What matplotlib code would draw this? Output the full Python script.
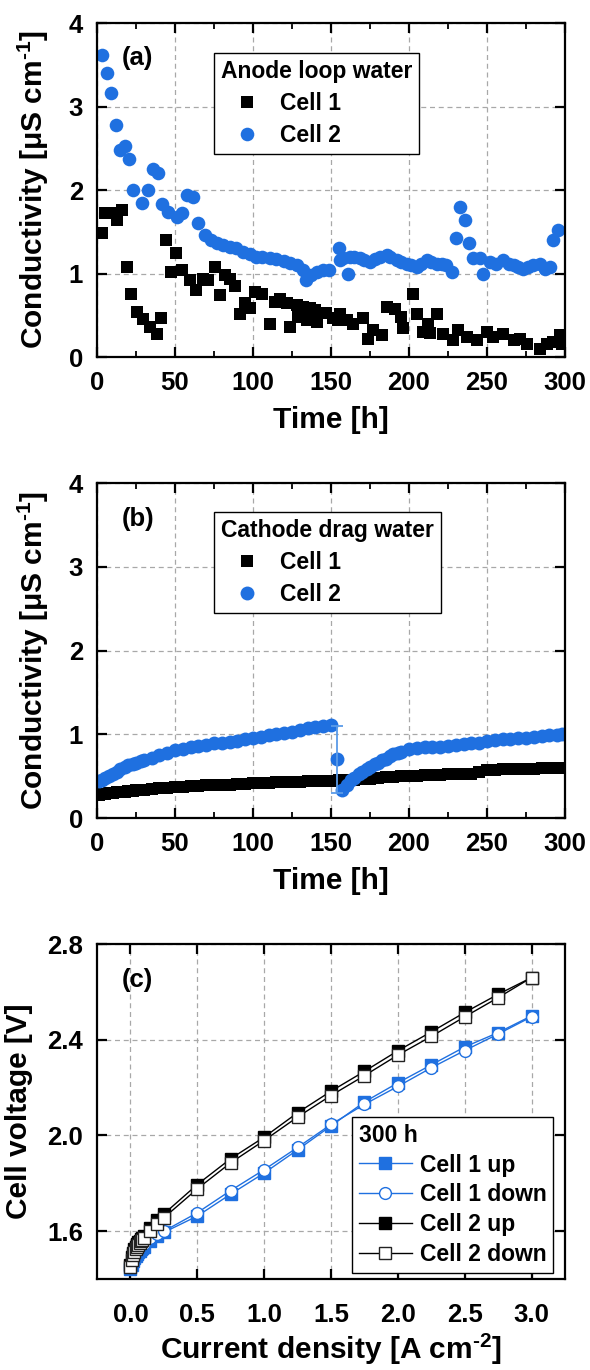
import numpy as np
import matplotlib
matplotlib.use('Agg')
import matplotlib.pyplot as plt

plt.rcParams['font.family'] = ['Liberation Sans', 'DejaVu Sans']
plt.rcParams['font.weight'] = 'bold'
plt.rcParams['axes.labelweight'] = 'bold'
plt.rcParams['mathtext.fontset'] = 'custom'
plt.rcParams['mathtext.bf'] = 'Liberation Sans:bold'
plt.rcParams['mathtext.rm'] = 'Liberation Sans:bold'
plt.rcParams['mathtext.default'] = 'bf'

blue = '#1f70e0'

# ---- (a) anode loop water ----
t_a1 = [3, 5, 9.4, 12.6, 15.8, 19, 22, 25.4, 29.7, 34, 38.3, 41, 44.2, 47.2, 50.6, 54.3, 59.6, 63.5, 68, 71,
        75.6, 79, 82, 85, 88.5, 91.7, 95, 98, 101, 105.6, 111, 114, 117, 121.6, 123.7, 128, 129, 132, 134.4,
        136.5, 139.7, 140.8, 147, 151.5, 154.7, 155.8, 160, 164, 170.7, 174, 177, 182.5, 185.7, 191, 195, 196,
        202.8, 205, 209, 212, 213.5, 217.7, 222, 228.4, 231.6, 237, 243.4, 249.8, 254, 260.4, 267, 271, 275.4,
        284, 288.3, 292.5, 296.8, 297.8]
c_a1 = [1.49, 1.72, 1.72, 1.64, 1.76, 1.08, 0.76, 0.54, 0.46, 0.36, 0.28, 0.47, 1.40, 1.02, 1.25, 1.04, 0.92,
        0.80, 0.94, 0.92, 1.08, 0.74, 0.98, 0.94, 0.85, 0.52, 0.65, 0.59, 0.78, 0.76, 0.40, 0.66, 0.70, 0.65,
        0.36, 0.62, 0.48, 0.60, 0.44, 0.59, 0.56, 0.42, 0.53, 0.47, 0.44, 0.52, 0.44, 0.40, 0.47, 0.22, 0.32,
        0.26, 0.60, 0.58, 0.48, 0.35, 0.76, 0.52, 0.30, 0.40, 0.29, 0.52, 0.28, 0.20, 0.32, 0.24, 0.20, 0.30,
        0.24, 0.28, 0.20, 0.22, 0.16, 0.10, 0.16, 0.18, 0.26, 0.16]
t_a2 = [3, 6.2, 9, 12, 14.7, 18, 20.7, 23.3, 28.6, 32.9, 35.7, 39.3, 41.4, 45.7, 51, 54.3, 57.5, 61.7, 65, 69,
        73, 76.7, 81, 85, 89, 93.8, 98, 102, 106, 111, 115, 120, 124, 128, 132, 134, 137, 141, 145, 149, 155,
        156, 158, 161, 162, 165, 168.6, 171, 175, 178, 181.4, 185.7, 188, 192, 195, 198.6, 201, 205, 208,
        211.5, 214, 217.8, 221, 224, 227.4, 230, 232.7, 236, 238.7, 241, 245.5, 247.7, 252, 256, 260.5, 264,
        267, 270, 273, 276, 279.7, 284, 287.2, 290.4, 292.5, 295.7]
c_a2 = [3.62, 3.40, 3.16, 2.78, 2.48, 2.53, 2.37, 2.00, 1.84, 2.00, 2.25, 2.20, 1.83, 1.74, 1.68, 1.72, 1.94,
        1.92, 1.60, 1.46, 1.40, 1.36, 1.34, 1.32, 1.30, 1.26, 1.23, 1.20, 1.20, 1.19, 1.17, 1.15, 1.13, 1.10,
        1.04, 0.92, 0.98, 1.02, 1.04, 1.04, 1.30, 1.16, 1.18, 1.00, 1.20, 1.20, 1.18, 1.16, 1.14, 1.17, 1.20,
        1.22, 1.20, 1.16, 1.14, 1.12, 1.10, 1.08, 1.12, 1.16, 1.14, 1.12, 1.11, 1.10, 1.02, 1.42, 1.80, 1.64,
        1.37, 1.18, 1.18, 0.99, 1.14, 1.12, 1.16, 1.12, 1.10, 1.08, 1.06, 1.08, 1.10, 1.12, 1.06, 1.08, 1.40,
        1.52]

# ---- (b) cathode drag water ----
t_b1 = [1, 3, 5, 8, 10, 13, 15, 18, 20, 23, 25, 28, 30, 35, 40, 45, 50, 55, 60, 65, 70, 75, 80, 85, 90, 95,
        100, 105, 110, 115, 120, 125, 130, 135, 140, 145, 150, 155, 160, 165, 170, 175, 180, 185, 190, 195,
        200, 205, 210, 215, 220, 225, 230, 235, 240, 245, 250, 255, 260, 265, 270, 275, 280, 285, 290, 295, 298]
c_b1 = [0.28, 0.285, 0.29, 0.295, 0.30, 0.305, 0.31, 0.315, 0.32, 0.325, 0.33, 0.335, 0.34, 0.35, 0.355,
        0.36, 0.37, 0.375, 0.38, 0.385, 0.39, 0.395, 0.40, 0.40, 0.405, 0.41, 0.415, 0.42, 0.42, 0.425, 0.43,
        0.43, 0.435, 0.44, 0.44, 0.445, 0.445, 0.45, 0.455, 0.46, 0.465, 0.47, 0.48, 0.485, 0.49, 0.50, 0.50,
        0.505, 0.51, 0.51, 0.515, 0.52, 0.52, 0.525, 0.53, 0.55, 0.57, 0.575, 0.58, 0.58, 0.585, 0.59, 0.59,
        0.595, 0.60, 0.60, 0.60]
t_b2 = [1, 3, 5, 8, 10, 13, 15, 18, 20, 23, 25, 28, 30, 35, 40, 45, 50, 55, 60, 65, 70, 75, 80, 85, 90, 95,
        100, 105, 110, 115, 120, 125, 130, 135, 140, 145, 150, 153.6, 157, 160, 163, 165, 168, 170, 173, 175,
        178, 180, 183, 185, 188, 190, 193, 195, 200, 205, 210, 215, 220, 225, 230, 235, 240, 245, 250, 255,
        260, 265, 270, 275, 280, 285, 290, 295, 298]
c_b2 = [0.44, 0.46, 0.48, 0.50, 0.52, 0.55, 0.58, 0.61, 0.63, 0.65, 0.66, 0.68, 0.69, 0.72, 0.75, 0.78,
        0.81, 0.83, 0.85, 0.86, 0.87, 0.89, 0.90, 0.91, 0.92, 0.94, 0.96, 0.97, 0.99, 1.00, 1.02, 1.03, 1.05,
        1.07, 1.09, 1.10, 1.11, 0.70, 0.33, 0.40, 0.45, 0.48, 0.52, 0.55, 0.58, 0.61, 0.64, 0.66, 0.69, 0.71,
        0.74, 0.76, 0.78, 0.79, 0.82, 0.84, 0.85, 0.85, 0.85, 0.86, 0.87, 0.88, 0.89, 0.90, 0.92, 0.93, 0.94,
        0.94, 0.95, 0.96, 0.97, 0.98, 0.99, 0.99, 1.00]
err_t = 153.6
err_c = 0.70
err_c_size = 0.40

# ---- (c) polarisation curves ----
j_c = [0, 0.01, 0.02, 0.03, 0.04, 0.05, 0.06, 0.07, 0.08, 0.09, 0.1, 0.15, 0.2, 0.25, 0.5, 0.75, 1.0, 1.25,
       1.5, 1.75, 2.0, 2.25, 2.5, 2.75, 3.0]
u_cell1_up = [1.44, 1.46, 1.475, 1.487, 1.497, 1.505, 1.512, 1.518, 1.524, 1.53, 1.535, 1.56, 1.58, 1.595,
              1.663, 1.755, 1.843, 1.94, 2.04, 2.14, 2.22, 2.295, 2.37, 2.43, 2.50]
u_cell1_down = [1.45, 1.47, 1.485, 1.497, 1.507, 1.515, 1.522, 1.528, 1.534, 1.54, 1.545, 1.57, 1.588, 1.60,
                1.677, 1.770, 1.857, 1.95, 2.046, 2.13, 2.205, 2.283, 2.355, 2.424, 2.496]
u_cell2_up = [1.46, 1.49, 1.51, 1.525, 1.535, 1.545, 1.553, 1.56, 1.567, 1.573, 1.58, 1.615, 1.645, 1.672,
              1.795, 1.903, 1.993, 2.095, 2.185, 2.268, 2.354, 2.433, 2.514, 2.59, 2.66]
u_cell2_down = [1.45, 1.48, 1.50, 1.515, 1.525, 1.535, 1.543, 1.55, 1.557, 1.563, 1.57, 1.60, 1.63, 1.656,
                1.777, 1.886, 1.979, 2.077, 2.167, 2.250, 2.336, 2.414, 2.496, 2.576, 2.66]

fig = plt.figure(figsize=(5.9, 13.7), dpi=100)
ax_a = fig.add_axes([0.1644, 0.7394, 0.7932, 0.2438])
ax_b = fig.add_axes([0.1644, 0.4029, 0.7932, 0.2445])
ax_c = fig.add_axes([0.1644, 0.0664, 0.7932, 0.2445])

cond_label = r'Conductivity [μS cm$^{\text{-1}}$]'


def style_axes(ax, minor_x):
    for s in ax.spines.values():
        s.set_linewidth(1.6)
    ax.tick_params(which='major', direction='in', length=7, width=1.6, top=True, right=True,
                   labelsize=18.5, pad=10)
    if minor_x:
        ax.tick_params(which='minor', direction='in', length=4, width=1.3, top=True, right=True)
    ax.grid(True, which='major', color='#a8a8a8', linestyle=(0, (4, 3)), linewidth=0.9)
    ax.set_axisbelow(True)


def legend_style(leg):
    leg.get_frame().set_edgecolor('black')
    leg.get_frame().set_linewidth(1.0)
    leg.get_frame().set_boxstyle('square', pad=0)
    leg._legend_box.align = 'left'
    leg.get_title().set_fontweight('bold')


# (a)
ax_a.plot(t_a1, c_a1, 's', color='black', ms=8.2, mew=0, label='Cell 1')
ax_a.plot(t_a2, c_a2, 'o', color=blue, ms=9.8, mew=0, label='Cell 2')
ax_a.set_xlim(0, 300)
ax_a.set_ylim(0, 4)
ax_a.set_xticks(np.arange(0, 301, 50))
ax_a.set_xticks(np.arange(25, 300, 50), minor=True)
ax_a.set_yticks([0, 1, 2, 3, 4])
style_axes(ax_a, True)
ax_a.set_xlabel('Time [h]', fontsize=21.5, labelpad=8)
ax_a.set_ylabel(cond_label, fontsize=21.5, labelpad=13)
ax_a.text(0.053, 0.93, '(a)', transform=ax_a.transAxes, fontsize=18.5, fontweight='bold', va='top')
leg = ax_a.legend(title='Anode loop water', loc='upper left', bbox_to_anchor=(0.25, 0.91),
                  borderaxespad=0, fontsize=16.5, title_fontsize=16.5, handlelength=2.3,
                  handletextpad=0.3, labelspacing=0.4, borderpad=0.3, fancybox=False, framealpha=1)
legend_style(leg)

# (b)
ax_b.plot(t_b1, c_b1, 's', color='black', ms=8.5, mew=0, label='Cell 1')
ax_b.plot(t_b2, c_b2, 'o', color=blue, ms=10, mew=0, label='Cell 2')
ax_b.errorbar([err_t], [err_c], yerr=[err_c_size], fmt='none', ecolor='#5a9be8', elinewidth=1.3,
              capsize=4, capthick=1.3)
ax_b.set_xlim(0, 300)
ax_b.set_ylim(0, 4)
ax_b.set_xticks(np.arange(0, 301, 50))
ax_b.set_xticks(np.arange(25, 300, 50), minor=True)
ax_b.set_yticks([0, 1, 2, 3, 4])
style_axes(ax_b, True)
ax_b.set_xlabel('Time [h]', fontsize=21.5, labelpad=8)
ax_b.set_ylabel(cond_label, fontsize=21.5, labelpad=13)
ax_b.text(0.053, 0.93, '(b)', transform=ax_b.transAxes, fontsize=18.5, fontweight='bold', va='top')
leg = ax_b.legend(title='Cathode drag water', loc='upper left', bbox_to_anchor=(0.25, 0.913),
                  borderaxespad=0, fontsize=16.5, title_fontsize=16.5, handlelength=2.3,
                  handletextpad=0.3, labelspacing=0.4, borderpad=0.3, fancybox=False, framealpha=1)
legend_style(leg)

# (c)
ax_c.plot(j_c, u_cell1_up, '-s', color=blue, lw=1.0, ms=8, mfc=blue, mec=blue, mew=1.0, label='Cell 1 up')
ax_c.plot(j_c, u_cell1_down, '-o', color=blue, lw=1.0, ms=8.5, mfc='white', mec=blue, mew=1.0,
          label='Cell 1 down')
ax_c.plot(j_c, u_cell2_up, '-s', color='black', lw=1.0, ms=8, mfc='black', mec='black', mew=1.0,
          label='Cell 2 up')
ax_c.plot(j_c, u_cell2_down, '-s', color='black', lw=1.0, ms=8, mfc='white', mec='#222222', mew=1.0,
          label='Cell 2 down')
ax_c.set_xlim(-0.25, 3.25)
ax_c.set_ylim(1.4, 2.8)
ax_c.set_xticks([0, 0.5, 1.0, 1.5, 2.0, 2.5, 3.0])
ax_c.set_yticks([1.6, 2.0, 2.4, 2.8])
ax_c.xaxis.set_major_formatter(matplotlib.ticker.FormatStrFormatter('%.1f'))
ax_c.yaxis.set_major_formatter(matplotlib.ticker.FormatStrFormatter('%.1f'))
style_axes(ax_c, False)
ax_c.tick_params(axis='x', pad=17)
ax_c.set_xlabel(r'Current density [A cm$^{\text{-2}}$]', fontsize=21.5, labelpad=4)
ax_c.set_ylabel('Cell voltage [V]', fontsize=21.5, labelpad=10)
ax_c.text(0.053, 0.93, '(c)', transform=ax_c.transAxes, fontsize=18.5, fontweight='bold', va='top')
leg = ax_c.legend(title='300 h', loc='lower right', bbox_to_anchor=(0.975, 0.018),
                  borderaxespad=0, fontsize=16.5, title_fontsize=16.5, handlelength=2.3,
                  handletextpad=0.35, labelspacing=0.3, borderpad=0.3, fancybox=False, framealpha=1)
legend_style(leg)

fig.savefig('out.png', dpi=100)
